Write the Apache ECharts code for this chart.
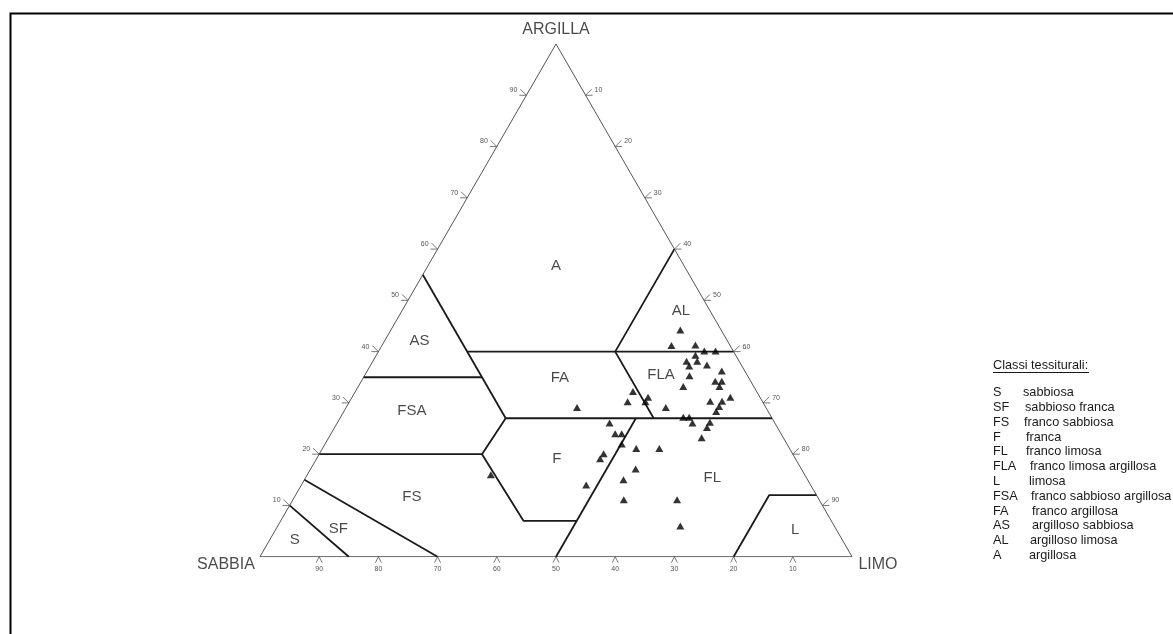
<!DOCTYPE html>
<html>
<head>
<meta charset="utf-8">
<script src="https://cdn.jsdelivr.net/npm/echarts@6/dist/echarts.min.js"></script>
<style>
  html, body { margin: 0; padding: 0; background: #fff; }
  #chart { width: 1173px; height: 634px; }
</style>
</head>
<body>
<div id="chart"></div>
<script>
// campioni: % sabbia e % argilla (limo = 100 - sabbia - argilla)
const sampleSand = [6.9, 9.9, 5.8, 4.9, 3.0, 6.8, 8.9, 7.1, 8.9, 5.8, 3.9, 9.8, 6.0, 4.9, 5.8, 11.9,
  20.9, 18.9, 22.8, 19.8, 5.0, 8.8, 6.8, 16.9, 7.8, 8.8, 31.9, 27.9, 14.9, 13.9, 13.9, 10.9,
  11.9, 28.0, 26.9, 13.8, 27.9, 25.9, 22.0, 31.9, 33.0, 28.0, 53.0, 37.9, 31.1, 33.0, 24.0, 26.0];
const sampleClay = [44.2, 41.2, 41.3, 40.1, 40.1, 39.3, 38.1, 38.1, 37.2, 37.4, 36.2, 35.3, 34.2, 34.2, 33.2, 33.2,
  32.2, 31.1, 30.2, 30.2, 31.1, 30.3, 30.3, 29.1, 29.3, 28.3, 29.1, 26.1, 27.2, 27.2, 26.1, 26.2,
  25.2, 24.0, 24.0, 23.2, 22.0, 21.1, 21.1, 20.1, 19.1, 17.1, 16.0, 14.0, 15.0, 11.1, 11.1, 6.0];

// classi tessiturali
const classCodes = ['S', 'SF', 'FS', 'F', 'FL', 'FLA', 'L', 'FSA', 'FA', 'AS', 'AL', 'A'];
const classNames = ['sabbiosa', 'sabbioso franca', 'franco sabbiosa', 'franca', 'franco limosa',
  'franco limosa argillosa', 'limosa', 'franco sabbioso argillosa', 'franco argillosa',
  'argilloso sabbiosa', 'argilloso limosa', 'argillosa'];
// centro delle etichette nel triangolo (sabbia, argilla)
const classLabelSand = [92.5, 84, 68.5, 40.3, 15.9, 14.5, 7, 60.1, 31.9, 52, 4.9, 21.6];
const classLabelClay = [3.3, 5.5, 11.7, 19.1, 15.4, 35.5, 5.2, 28.5, 34.9, 42.1, 48, 56.8];

// limiti tra le classi, spezzate di punti (sabbia, argilla)
const classBoundaries = [
  [[65, 35], [45, 35]],
  [[45, 55], [45, 27]],
  [[45, 40], [0, 40]],
  [[0, 60], [20, 40], [20, 27]],
  [[80, 20], [52.5, 20], [45, 27]],
  [[52.5, 20], [52, 7], [43, 7]],
  [[45, 27], [0, 27]],
  [[50, 0], [23, 27]],
  [[85, 15], [70, 0]],
  [[90, 10], [85, 0]],
  [[20, 0], [8, 12], [0, 12]]
];

const tickValues = [10, 20, 30, 40, 50, 60, 70, 80, 90];
const cornerNames = ['SABBIA', 'LIMO', 'ARGILLA'];

const H = Math.sqrt(3) / 2;
// (sabbia, argilla) -> coordinate piane
function tern(sand, clay) {
  return [100 - sand - clay / 2, clay * H];
}

const FONT = 'Liberation Sans, Arial, sans-serif';

const tickData = [];
tickValues.forEach(function (v) {
  tickData.push(tern(v, 0).concat([0, v]));          // sabbia, lato basso
  tickData.push(tern(100 - v, v).concat([1, v]));    // argilla, lato sinistro
  tickData.push(tern(0, 100 - v).concat([2, v]));    // limo, lato destro
});

function renderTick(params, api) {
  const p = api.coord([api.value(0), api.value(1)]);
  const kind = api.value(2);
  const x = p[0], y = p[1];
  let pts, tx, ty, align;
  if (kind === 0) {
    pts = [[x - 3, y + 6], [x, y], [x + 3, y + 6]];
    tx = x; ty = y + 12; align = 'center';
  } else if (kind === 1) {
    pts = [[x - 6, y - 6], [x, y], [x - 7, y]];
    tx = x - 9; ty = y - 5; align = 'right';
  } else {
    pts = [[x + 6, y - 6], [x, y], [x + 7, y]];
    tx = x + 9; ty = y - 5; align = 'left';
  }
  return {
    type: 'group',
    children: [{
      type: 'polyline',
      shape: { points: pts },
      style: { stroke: '#555', lineWidth: 0.8, fill: null }
    }, {
      type: 'text',
      style: {
        text: String(api.value(3)), x: tx, y: ty,
        align: align, verticalAlign: 'middle',
        font: '7px ' + FONT, fill: '#555'
      }
    }]
  };
}

const series = [];

series.push({
  type: 'line',
  silent: true,
  symbol: 'none',
  data: [tern(100, 0), tern(0, 0), tern(0, 100), tern(100, 0)],
  lineStyle: { color: '#555', width: 1 },
  z: 2
});

classBoundaries.forEach(function (b) {
  series.push({
    type: 'line',
    silent: true,
    symbol: 'none',
    data: b.map(function (q) { return tern(q[0], q[1]); }),
    lineStyle: { color: '#1a1a1a', width: 1.8 },
    z: 3
  });
});

series.push({
  type: 'custom',
  silent: true,
  renderItem: renderTick,
  data: tickData,
  z: 4
});

series.push({
  type: 'scatter',
  silent: true,
  symbolSize: 0,
  data: classCodes.map(function (c, i) {
    return tern(classLabelSand[i], classLabelClay[i]).concat([c]);
  }),
  label: {
    show: true,
    position: 'inside',
    formatter: function (p) { return p.value[2]; },
    color: '#1a1a1a',
    fontFamily: FONT,
    fontSize: 15
  },
  z: 5
});

series.push({
  type: 'scatter',
  silent: true,
  symbolSize: 0,
  data: [
    { value: tern(100, 0).concat([cornerNames[0]]), label: { offset: [-34, 8] } },
    { value: tern(0, 0).concat([cornerNames[1]]), label: { offset: [26, 8] } },
    { value: tern(0, 100).concat([cornerNames[2]]), label: { offset: [0, -14] } }
  ],
  label: {
    show: true,
    position: 'inside',
    formatter: function (p) { return p.value[2]; },
    color: '#1a1a1a',
    fontFamily: FONT,
    fontSize: 16
  },
  z: 5
});

series.push({
  type: 'scatter',
  silent: true,
  symbol: 'triangle',
  symbolSize: [8, 7],
  itemStyle: { color: '#000' },
  data: sampleSand.map(function (s, i) { return tern(s, sampleClay[i]); }),
  z: 6
});

// legenda a destra
const legendTop = 392.7, legendStep = 14.8;
const legendDescX = [1023, 1025, 1024, 1026, 1026, 1030, 1029, 1031, 1032, 1032, 1030, 1029];
const graphics = [{
  type: 'rect',
  left: 8, top: 11,
  shape: { width: 1300, height: 800 },
  style: { fill: null, stroke: '#000', lineWidth: 2 },
  silent: true
}, {
  type: 'text',
  x: 993, y: 365,
  style: { text: 'Classi tessiturali:', font: '12.7px ' + FONT, fill: '#1a1a1a', verticalAlign: 'middle' }
}, {
  type: 'line',
  shape: { x1: 993, y1: 372.5, x2: 1089, y2: 372.5 },
  style: { stroke: '#1a1a1a', lineWidth: 1 }
}];
classCodes.forEach(function (c, i) {
  const y = legendTop + i * legendStep;
  graphics.push({
    type: 'text', x: 993, y: y,
    style: { text: c, font: '12.7px ' + FONT, fill: '#1a1a1a', verticalAlign: 'middle' }
  });
  graphics.push({
    type: 'text', x: legendDescX[i], y: y,
    style: { text: classNames[i], font: '12.7px ' + FONT, fill: '#1a1a1a', verticalAlign: 'middle' }
  });
});

const chart = echarts.init(document.getElementById('chart'), null, { renderer: 'canvas' });
chart.setOption({
  animation: false,
  backgroundColor: '#fff',
  grid: { left: 260, top: 44, width: 592, height: 512.7 },
  xAxis: { type: 'value', min: 0, max: 100, show: false },
  yAxis: { type: 'value', min: 0, max: 100 * H, show: false },
  series: series,
  graphic: graphics
});
</script>
</body>
</html>
